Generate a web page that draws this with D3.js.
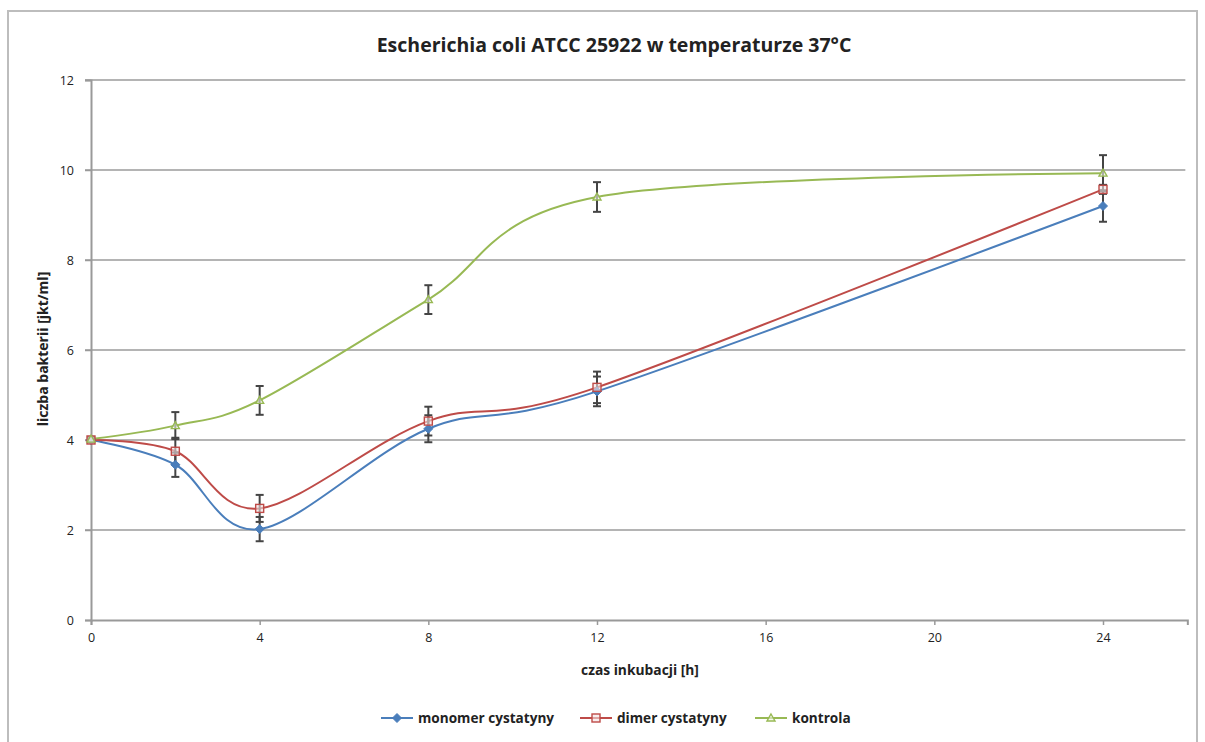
<!DOCTYPE html>
<html>
<head>
<meta charset="utf-8">
<script src="https://cdn.jsdelivr.net/npm/d3@7"></script>
<style>
  body { margin: 0; background: #fff; }
  text { font-family: "Open Sans", sans-serif; fill: #222; }
</style>
</head>
<body>
<div id="chart"></div>
<script>
var hours = [0, 2, 4, 8, 12, 24];
var monomer = [4.0, 3.45, 2.02, 4.25, 5.08, 9.2];
var monomerErr = [0.05, 0.27, 0.27, 0.3, 0.33, 0.35];
var dimer = [4.0, 3.75, 2.48, 4.42, 5.17, 9.57];
var dimerErr = [0.05, 0.3, 0.3, 0.32, 0.35, 0.1];
var kontrola = [4.02, 4.32, 4.88, 7.12, 9.4, 9.93];
var kontrolaErr = [0.05, 0.3, 0.32, 0.32, 0.33, 0.4];
var xTicks = [0, 4, 8, 12, 16, 20, 24];
var yTicks = [0, 2, 4, 6, 8, 10, 12];

var width = 1205, height = 742;

var svg = d3.select("#chart").append("svg")
    .attr("width", width)
    .attr("height", height);

// outer frame
svg.append("rect")
    .attr("x", 8).attr("y", 11)
    .attr("width", 1189).attr("height", 740)
    .attr("fill", "none")
    .attr("stroke", "#bdbdbd")
    .attr("stroke-width", 2);

var x = d3.scaleLinear().domain([0, 26]).range([91, 91 + 26 * (1103 - 91) / 24]);
var y = d3.scaleLinear().domain([0, 12]).range([620, 80]);

// gridlines
svg.selectAll(".grid")
    .data(yTicks.filter(function(d){ return d > 0; }))
    .enter()
    .append("line")
    .attr("class", "grid")
    .attr("x1", x(0) - 6)
    .attr("x2", x(26) - 2)
    .attr("y1", function(d){ return y(d); })
    .attr("y2", function(d){ return y(d); })
    .attr("stroke", "#b4b4b4")
    .attr("stroke-width", 2);

// axes
var xAxis = svg.append("g")
    .attr("transform", "translate(0," + y(0) + ")")
    .call(d3.axisBottom(x).tickValues(xTicks).tickSize(5).tickPadding(8));
var yAxis = svg.append("g")
    .attr("transform", "translate(" + x(0) + ",0)")
    .call(d3.axisLeft(y).tickValues(yTicks).tickSize(6).tickPadding(11));
[xAxis, yAxis].forEach(function(a){
    a.select(".domain").attr("stroke", "#999").attr("stroke-width", 2);
    a.selectAll(".tick line").attr("stroke", "#999").attr("stroke-width", 1.5);
    a.selectAll(".tick text").attr("font-size", 12.5).attr("fill", "#222")
        .attr("font-family", "'Open Sans', sans-serif");
});

var series = [
    {name: "monomer cystatyny", values: monomer, err: monomerErr, color: "#4a7ebb", shape: "diamond"},
    {name: "dimer cystatyny", values: dimer, err: dimerErr, color: "#be4b48", shape: "square"},
    {name: "kontrola", values: kontrola, err: kontrolaErr, color: "#98b954", shape: "triangle"}
];

var line = d3.line()
    .x(function(d){ return x(d[0]); })
    .y(function(d){ return y(d[1]); })
    .curve(d3.curveCardinal.tension(0));

function marker(g, shape, color, cx, cy) {
    if (shape === "diamond") {
        g.append("path")
            .attr("d", "M" + cx + "," + (cy - 4.5) + "L" + (cx + 4.5) + "," + cy + "L" + cx + "," + (cy + 4.5) + "L" + (cx - 4.5) + "," + cy + "Z")
            .attr("fill", color).attr("stroke", color);
    } else if (shape === "square") {
        g.append("rect")
            .attr("x", cx - 4).attr("y", cy - 4).attr("width", 8).attr("height", 8)
            .attr("fill", "#f3e3e3").attr("fill-opacity", 0.6).attr("stroke", color).attr("stroke-width", 1.4);
    } else {
        g.append("path")
            .attr("d", "M" + cx + "," + (cy - 4) + "L" + (cx + 4) + "," + (cy + 3) + "L" + (cx - 4) + "," + (cy + 3) + "Z")
            .attr("fill", "#eef3e4").attr("fill-opacity", 0.6).attr("stroke", color).attr("stroke-width", 1.4);
    }
}

series.forEach(function(s){
    var pts = hours.map(function(h, i){ return [h, s.values[i]]; });
    svg.append("path")
        .datum(pts)
        .attr("d", line)
        .attr("fill", "none")
        .attr("stroke", s.color)
        .attr("stroke-width", 2);
});

// error bars
series.forEach(function(s){
    var g = svg.append("g");
    hours.forEach(function(h, i){
        var lo = y(s.values[i] - s.err[i]), hi = y(s.values[i] + s.err[i]), cx = x(h);
        g.append("line").attr("x1", cx).attr("x2", cx).attr("y1", lo).attr("y2", hi)
            .attr("stroke", "#444").attr("stroke-width", 2);
        [lo, hi].forEach(function(v){
            g.append("line").attr("x1", cx - 4).attr("x2", cx + 4).attr("y1", v).attr("y2", v)
                .attr("stroke", "#444").attr("stroke-width", 2);
        });
    });
});

series.forEach(function(s){
    var g = svg.append("g");
    hours.forEach(function(h, i){
        marker(g, s.shape, s.color, x(h), y(s.values[i]));
    });
});

// title and axis labels
svg.append("text")
    .attr("x", 614).attr("y", 52)
    .attr("text-anchor", "middle")
    .attr("font-size", 19.5).attr("font-weight", "bold")
    .text("Escherichia coli ATCC 25922 w temperaturze 37°C");

svg.append("text")
    .attr("x", 640).attr("y", 675)
    .attr("text-anchor", "middle")
    .attr("font-size", 13.8).attr("font-weight", "bold")
    .text("czas inkubacji [h]");

svg.append("text")
    .attr("transform", "translate(48,349) rotate(-90)")
    .attr("text-anchor", "middle")
    .attr("font-size", 14).attr("font-weight", "bold")
    .text("liczba bakterii [jkt/ml]");

// legend
var legendX = [381, 580, 755];
series.forEach(function(s, i){
    var lx = legendX[i], ly = 718;
    var g = svg.append("g");
    g.append("line").attr("x1", lx).attr("x2", lx + 32).attr("y1", ly).attr("y2", ly)
        .attr("stroke", s.color).attr("stroke-width", 2);
    marker(g, s.shape, s.color, lx + 16, ly);
    g.append("text")
        .attr("x", lx + 37).attr("y", ly + 5)
        .attr("font-size", 13.6).attr("font-weight", "bold")
        .text(s.name);
});
</script>
</body>
</html>
